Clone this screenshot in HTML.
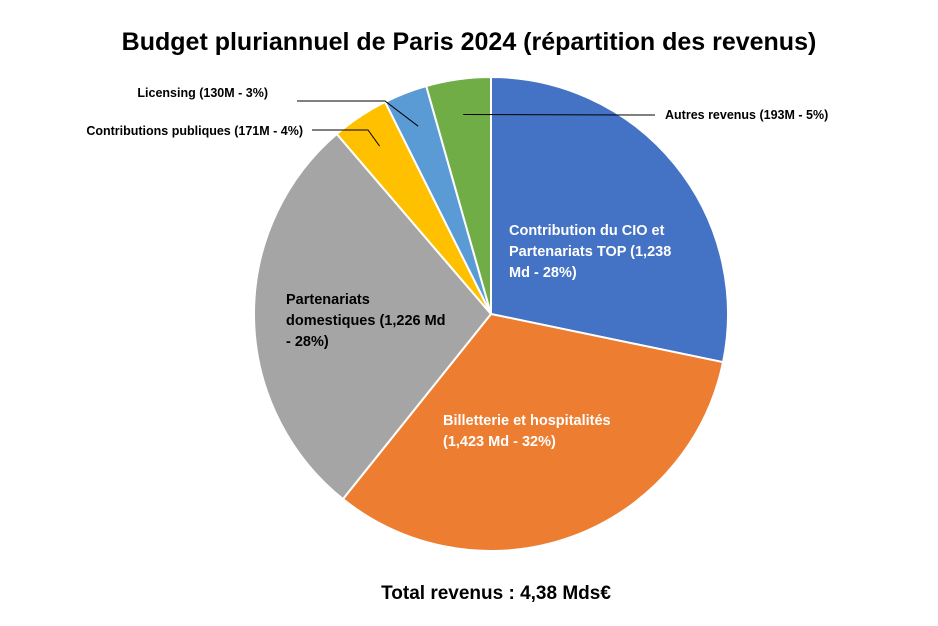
<!DOCTYPE html>
<html><head><meta charset="utf-8"><style>
body{margin:0;background:#fff;}
svg{display:block;font-family:"Liberation Sans",sans-serif;}
</style></head><body>
<svg id="chart" width="938" height="626">
<text x="469" y="50" text-anchor="middle" font-size="25" font-weight="bold" fill="#000">Budget pluriannuel de Paris 2024 (répartition des revenus)</text>
<g id="slices"></g>
<g id="labels"></g>
<text x="496" y="599" text-anchor="middle" font-size="19" font-weight="bold" fill="#000">Total revenus : 4,38 Mds€</text>
</svg>
<script>
const categories=["Contribution du CIO et Partenariats TOP","Billetterie et hospitalités","Partenariats domestiques","Contributions publiques","Licensing","Autres revenus"];
const values=[1238,1423,1226,171,130,193];
const colors=["#4472c4","#ed7d31","#a5a5a5","#ffc000","#5b9bd5","#70ad47"];
const cx=491,cy=314,r=237;
const total=values.reduce((a,b)=>a+b,0);
const ns="http://www.w3.org/2000/svg";
const g=document.getElementById('slices');
function pt(a,rad){return [cx+rad*Math.sin(a),cy-rad*Math.cos(a)];}
let acc=0;const mids=[];
values.forEach((v,i)=>{
 const a0=acc/total*2*Math.PI;acc+=v;const a1=acc/total*2*Math.PI;
 mids.push((a0+a1)/2);
 const p0=pt(a0,r),p1=pt(a1,r);const large=(a1-a0)>Math.PI?1:0;
 const p=document.createElementNS(ns,'path');
 p.setAttribute('d',`M${cx},${cy}L${p0[0]},${p0[1]}A${r},${r} 0 ${large} 1 ${p1[0]},${p1[1]}Z`);
 p.setAttribute('fill',colors[i]);p.setAttribute('stroke','#fff');p.setAttribute('stroke-width','2');
 
 
 g.appendChild(p);
});
const L=document.getElementById('labels');
function txt(lines,x,y,color,size,name,anchor){
 const t=document.createElementNS(ns,'text');
 t.setAttribute('x',x);t.setAttribute('y',y);t.setAttribute('fill',color);t.setAttribute('font-size',size);
 t.setAttribute('font-weight','bold');if(anchor)t.setAttribute('text-anchor',anchor);
 
 
 lines.forEach((s,k)=>{const ts=document.createElementNS(ns,'tspan');ts.setAttribute('x',x);ts.setAttribute('dy',k?21:0);ts.textContent=s;t.appendChild(ts);});
 L.appendChild(t);
}
function line(pts,name){
 const pl=document.createElementNS(ns,'polyline');
 pl.setAttribute('points',pts.map(p=>p.join(',')).join(' '));pl.setAttribute('fill','none');pl.setAttribute('stroke','#000');pl.setAttribute('stroke-width','1');
 
 
 L.appendChild(pl);
}
txt(["Contribution du CIO et","Partenariats TOP (1,238","Md - 28%)"],509,235,"#fff",14.5,"label-cio");
txt(["Billetterie et hospitalités","(1,423 Md - 32%)"],443,425,"#fff",14.5,"label-billetterie");
txt(["Partenariats","domestiques (1,226 Md","- 28%)"],286,304,"#000",14.5,"label-partenariats");
txt(["Contributions publiques (171M - 4%)"],303,135,"#000",12.5,"label-contributions","end");
txt(["Licensing (130M - 3%)"],268,97,"#000",12.5,"label-licensing","end");
txt(["Autres revenus (193M - 5%)"],665,119,"#000",12.5,"label-autres");
const mc=pt(mids[3],r*0.85),ml=pt(mids[4],r*0.85),ma=pt(mids[5],r*0.85);
line([[312,130],[368,130],mc],"leader-contributions");
line([[297,101],[385,101],ml],"leader-licensing");
line([ma,[655,115]],"leader-autres");
</script>
</body></html>
